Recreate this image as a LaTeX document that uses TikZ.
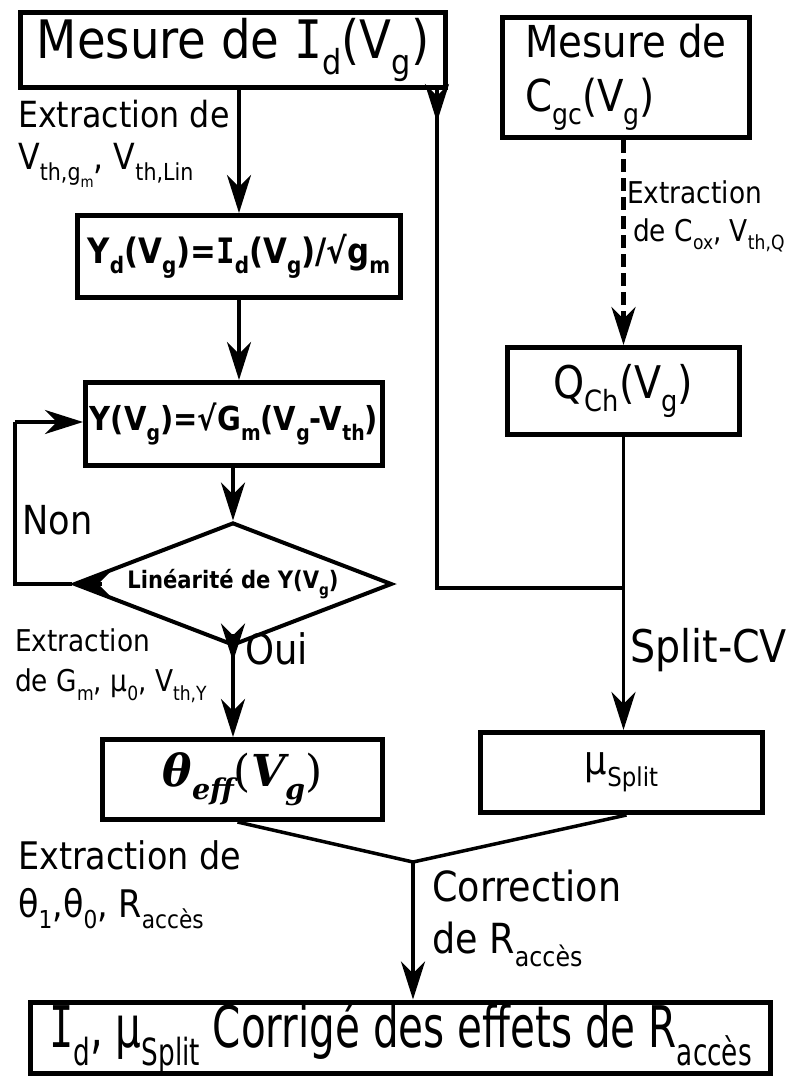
\documentclass[tikz,border=0pt]{standalone}
\usepackage{amsmath}
\usepackage{fontspec}
\setmainfont{DejaVu Sans}[FakeStretch=0.88]
\newfontfamily\serifI{DejaVu Sans Mono}[FakeStretch=0.88]
\newfontfamily\serifth{DejaVu Serif}
\usetikzlibrary{arrows.meta, shapes.geometric, calc}
\newcommand{\sbs}[1]{\raisebox{-0.3em}{\scalebox{0.65}{#1}}}
\newcommand{\Id}{{\serifI I}}
\newcommand{\fsz}[2]{\fontsize{#1}{#2}\selectfont}

\begin{document}
\begin{tikzpicture}[x=1pt, y=-1pt,
    boite/.style={draw, line width=5pt, inner sep=0pt, align=center},
    fleche/.style={line width=3.5pt, -{Stealth[length=38pt, width=24pt, inset=12pt]}},
    trait/.style={line width=3.5pt},
    etiq/.style={inner sep=0pt, align=left, anchor=north west}]
    \useasboundingbox (0,0) rectangle (793,1080);
    % boites
    \node[boite, minimum width=425pt, minimum height=75pt, font=\fsz{53}{60}] (m1) at (233,50)
        {Mesure de \Id\sbs{d}(V\sbs{g})};
    \node[boite, align=left, minimum width=247pt, minimum height=120pt, font=\fsz{44}{54}] (m2) at (626,77.5)
        {Mesure de\\C\sbs{gc}(V\sbs{g})};
    \node[boite, minimum width=323pt, minimum height=82pt, font=\bfseries\fsz{35}{40}] (yd) at (239,256.5)
        {Y\sbs{d}(V\sbs{g})=\Id\sbs{d}(V\sbs{g})/√g\sbs{m}};
    \node[boite, minimum width=297pt, minimum height=83pt, font=\bfseries\fsz{33}{40}] (yv) at (234,424)
        {Y(V\sbs{g})=√G\sbs{m}(V\sbs{g}-V\sbs{th})};
    \node[draw, diamond, aspect=2.6, line width=4pt, inner sep=0pt,
          minimum width=318pt, minimum height=123pt, font=\bfseries\fsz{24}{28}] (lin) at (233,584)
        {Linéarité de Y(V\sbs{g})};
    \node[boite, minimum width=232pt, minimum height=87pt, font=\fsz{45}{50}] (qch) at (623.5,391)
        {Q\sbs{Ch}(V\sbs{g})};
    \node[boite, minimum width=280pt, minimum height=80pt, font=\fsz{44}{48}] (theta) at (242.5,779.5)
        {{\serifth\bfseries\itshape θ\sbs{eff}}{\serifth(}{\serifth\bfseries\itshape V\sbs{g}}{\serifth)}};
    \node[boite, minimum width=282pt, minimum height=80pt, font=\fsz{40}{44}] (musp) at (621.5,772.5)
        {μ\sbs{Split}};
    \node[boite, minimum width=740pt, minimum height=70pt] (fin) at (400.5,1037.5)
        {\scalebox{1}[1.25]{\fsz{46}{50}\Id\sbs{d}, μ\sbs{Split} Corrigé des effets de R\sbs{accès}}};
    % etiquettes
    \node[etiq, font=\fsz{36}{42}] (e1) at (18,100) {Extraction de\\V\sbs{th,g\sbs{m}}, V\sbs{th,Lin}};
    \node[etiq, font=\fsz{30}{38}] (e2) at (627,180) {Extraction\\\hspace{6pt}de C\sbs{ox}, V\sbs{th,Q}};
    \node[etiq, font=\fsz{40}{44}] (e3) at (22,505) {Non};
    \node[etiq, font=\fsz{42}{44}] (e4) at (245,632) {Oui};
    \node[etiq, font=\fsz{30}{40}] (e5) at (15,628) {Extraction\\de G\sbs{m}, μ\sbs{0}, V\sbs{th,Y}};
    \node[etiq, font=\fsz{45}{48}] (e6) at (630,628) {Split-CV};
    \node[etiq, font=\fsz{38}{48}] (e7) at (18,840) {Extraction de\\θ\sbs{1},θ\sbs{0}, R\sbs{accès}};
    \node[etiq, font=\fsz{41.5}{52}] (e8) at (432,870) {Correction\\de R\sbs{accès}};
    % fleches
    \draw[fleche] (yd.north |- m1.south) -- (yd.north);
    \draw[fleche] (yd.south) -- (yd.south |- yv.north);
    \draw[fleche] (yv.south -| lin.north) -- (lin.north);
    \draw[fleche] (lin.south) -- (lin.south |- theta.north);
    \draw[fleche] ($(lin.south)+(0,-14)$) -- ($(lin.south)+(0,14)$);
    \draw[trait] (lin.west) -- (15,584) -- (15,422);
    \draw[fleche] (15,422) -- (yv.west |- 0,422);
    \draw[fleche] ($(lin.west)+(30,0)$) -- (lin.west);
    \coordinate (d1) at (m1.south -| 437,0);
    \coordinate (j1) at (qch.south |- 0,588);
    \draw[fleche] (d1) -- ++(0,32);
    \draw[trait] (d1) -- (d1 |- j1) -- (j1);
    \draw[fleche, line width=4.5pt, dash pattern=on 13pt off 6pt] (qch.north |- m2.south) -- (qch.north);
    \draw[fleche] (qch.south) -- (qch.south |- musp.north);
    \coordinate (mg) at (413,862);
    \draw[trait] ($(theta.south)+(-5,0)$) -- (mg) -- ($(musp.south)+(5,0)$);
    \draw[fleche] (mg) -- (mg |- fin.north);
\end{tikzpicture}
\end{document}
